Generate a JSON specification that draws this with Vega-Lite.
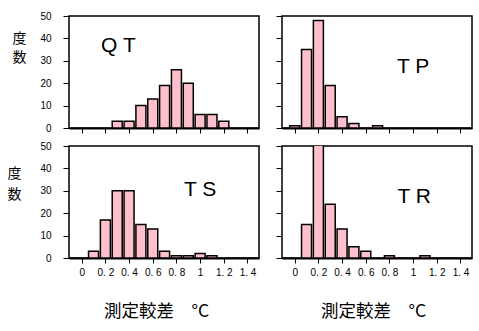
{
  "$schema": "https://vega.github.io/schema/vega-lite/v6.json",
  "padding": {"left": 6, "top": 10, "right": 5, "bottom": 5},
  "bounds": "flush",
  "columns": 2,
  "spacing": {"row": 18, "column": 23},
  "background": "white",
  "datasets": {
    "bars": [
      {"panel": "QT", "x": 0.3, "n": 3},
      {"panel": "QT", "x": 0.4, "n": 3},
      {"panel": "QT", "x": 0.5, "n": 10},
      {"panel": "QT", "x": 0.6, "n": 13},
      {"panel": "QT", "x": 0.7, "n": 19},
      {"panel": "QT", "x": 0.8, "n": 26},
      {"panel": "QT", "x": 0.9, "n": 20},
      {"panel": "QT", "x": 1.0, "n": 6},
      {"panel": "QT", "x": 1.1, "n": 6},
      {"panel": "QT", "x": 1.2, "n": 3},
      {"panel": "TP", "x": 0.0, "n": 1},
      {"panel": "TP", "x": 0.1, "n": 35},
      {"panel": "TP", "x": 0.2, "n": 48},
      {"panel": "TP", "x": 0.3, "n": 19},
      {"panel": "TP", "x": 0.4, "n": 5},
      {"panel": "TP", "x": 0.5, "n": 2},
      {"panel": "TP", "x": 0.7, "n": 1},
      {"panel": "TS", "x": 0.1, "n": 3},
      {"panel": "TS", "x": 0.2, "n": 17},
      {"panel": "TS", "x": 0.3, "n": 30},
      {"panel": "TS", "x": 0.4, "n": 30},
      {"panel": "TS", "x": 0.5, "n": 15},
      {"panel": "TS", "x": 0.6, "n": 13},
      {"panel": "TS", "x": 0.7, "n": 3},
      {"panel": "TS", "x": 0.8, "n": 1},
      {"panel": "TS", "x": 0.9, "n": 1},
      {"panel": "TS", "x": 1.0, "n": 2},
      {"panel": "TS", "x": 1.1, "n": 1},
      {"panel": "TR", "x": 0.1, "n": 15},
      {"panel": "TR", "x": 0.2, "n": 52},
      {"panel": "TR", "x": 0.3, "n": 24},
      {"panel": "TR", "x": 0.4, "n": 13},
      {"panel": "TR", "x": 0.5, "n": 5},
      {"panel": "TR", "x": 0.6, "n": 3},
      {"panel": "TR", "x": 0.8, "n": 1},
      {"panel": "TR", "x": 1.1, "n": 1}
    ]
  },
  "config": {
    "view": {"stroke": "black", "strokeWidth": 1.5},
    "axis": {
      "grid": false,
      "domain": false,
      "tickColor": "black",
      "tickWidth": 1,
      "labelColor": "black",
      "labelFont": "Liberation Sans",
      "labelFontSize": 10,
      "labelOverlap": false,
      "labelFlush": false,
      "labelBound": false,
      "titleColor": "black",
      "titleFont": "Noto Sans CJK JP",
      "titleFontWeight": "normal",
      "titleFontSize": 14
    }
  },
  "concat": [
    {
      "width": 190, "height": 112,
      "layer": [
        {
          "data": {"name": "bars"},
          "transform": [{"filter": "datum.panel === 'QT'"}],
          "mark": {"type": "bar", "width": 10, "fill": "#ffc0cb", "stroke": "black", "strokeWidth": 1.5, "clip": true},
          "encoding": {
            "x": {"field": "x", "type": "quantitative", "scale": {"domain": [-0.065, 1.455], "nice": false, "zero": false},
                  "axis": {"values": [0, 0.2, 0.4, 0.6, 0.8, 1, 1.2, 1.4], "labels": false, "title": null, "tickSize": 5, "domain": true, "domainColor": "black", "domainWidth": 2}},
            "y": {"field": "n", "type": "quantitative", "scale": {"domain": [0, 50], "nice": false},
                  "axis": {"values": [0, 10, 20, 30, 40, 50], "tickSize": 6, "labelPadding": 12, "title": ["度", "数"], "titleAngle": 0, "titleX": -50, "titleY": 22, "titleAlign": "center", "titleBaseline": "middle", "titleLineHeight": 19}}
          }
        },
        {
          "data": {"values": [{}]},
          "mark": {"type": "text", "font": "Liberation Sans", "fontSize": 21, "color": "black"},
          "encoding": {
            "x": {"datum": 0.31, "type": "quantitative",
                  "axis": {"values": [0, 0.2, 0.4, 0.6, 0.8, 1, 1.2, 1.4], "labels": false, "title": null, "tickSize": 5, "domain": true, "domainColor": "black", "domainWidth": 2}},
            "y": {"datum": 36.6, "type": "quantitative",
                  "axis": {"values": [0, 10, 20, 30, 40, 50], "tickSize": 6, "labelPadding": 12, "title": ["度", "数"], "titleAngle": 0, "titleX": -50, "titleY": 22, "titleAlign": "center", "titleBaseline": "middle", "titleLineHeight": 19}},
            "text": {"value": "Q T"}
          }
        }
      ]
    },
    {
      "width": 190, "height": 112,
      "layer": [
        {
          "data": {"name": "bars"},
          "transform": [{"filter": "datum.panel === 'TP'"}],
          "mark": {"type": "bar", "width": 10, "fill": "#ffc0cb", "stroke": "black", "strokeWidth": 1.5, "clip": true},
          "encoding": {
            "x": {"field": "x", "type": "quantitative", "scale": {"domain": [-0.065, 1.455], "nice": false, "zero": false},
                  "axis": {"values": [0, 0.2, 0.4, 0.6, 0.8, 1, 1.2, 1.4], "labels": false, "title": null, "tickSize": 5, "domain": true, "domainColor": "black", "domainWidth": 2}},
            "y": {"field": "n", "type": "quantitative", "scale": {"domain": [0, 50], "nice": false},
                  "axis": {"values": [0, 10, 20, 30, 40, 50], "tickSize": 6, "labels": false, "title": null}}
          }
        },
        {
          "data": {"values": [{}]},
          "mark": {"type": "text", "font": "Liberation Sans", "fontSize": 21, "color": "black"},
          "encoding": {
            "x": {"datum": 1.0, "type": "quantitative",
                  "axis": {"values": [0, 0.2, 0.4, 0.6, 0.8, 1, 1.2, 1.4], "labels": false, "title": null, "tickSize": 5, "domain": true, "domainColor": "black", "domainWidth": 2}},
            "y": {"datum": 27.2, "type": "quantitative",
                  "axis": {"values": [0, 10, 20, 30, 40, 50], "tickSize": 6, "labels": false, "title": null}},
            "text": {"value": "T P"}
          }
        }
      ]
    },
    {
      "width": 190, "height": 112,
      "layer": [
        {
          "data": {"name": "bars"},
          "transform": [{"filter": "datum.panel === 'TS'"}],
          "mark": {"type": "bar", "width": 10, "fill": "#ffc0cb", "stroke": "black", "strokeWidth": 1.5, "clip": true},
          "encoding": {
            "x": {"field": "x", "type": "quantitative", "scale": {"domain": [-0.065, 1.455], "nice": false, "zero": false},
                  "axis": {"values": [0, 0.2, 0.4, 0.6, 0.8, 1, 1.2, 1.4], "format": "~g", "labelExpr": "replace(datum.label, '.', '. ')", "labelPadding": 4, "tickSize": 5, "domain": true, "domainColor": "black", "domainWidth": 2,
                           "title": "測定較差　°C", "titleX": 87, "titleY": 53, "titleAlign": "center", "titleBaseline": "middle", "titleFontSize": 17.5}},
            "y": {"field": "n", "type": "quantitative", "scale": {"domain": [0, 50], "nice": false},
                  "axis": {"values": [0, 10, 20, 30, 40, 50], "tickSize": 6, "labelPadding": 12, "title": ["度", "数"], "titleAngle": 0, "titleX": -55, "titleY": 27, "titleAlign": "center", "titleBaseline": "middle", "titleLineHeight": 21}}
          }
        },
        {
          "data": {"values": [{}]},
          "mark": {"type": "text", "font": "Liberation Sans", "fontSize": 21, "color": "black"},
          "encoding": {
            "x": {"datum": 1.0, "type": "quantitative",
                  "axis": {"values": [0, 0.2, 0.4, 0.6, 0.8, 1, 1.2, 1.4], "format": "~g", "labelExpr": "replace(datum.label, '.', '. ')", "labelPadding": 4, "tickSize": 5, "domain": true, "domainColor": "black", "domainWidth": 2,
                           "title": "測定較差　°C", "titleX": 87, "titleY": 53, "titleAlign": "center", "titleBaseline": "middle", "titleFontSize": 17.5}},
            "y": {"datum": 30.4, "type": "quantitative",
                  "axis": {"values": [0, 10, 20, 30, 40, 50], "tickSize": 6, "labelPadding": 12, "title": ["度", "数"], "titleAngle": 0, "titleX": -55, "titleY": 27, "titleAlign": "center", "titleBaseline": "middle", "titleLineHeight": 21}},
            "text": {"value": "T S"}
          }
        }
      ]
    },
    {
      "width": 190, "height": 112,
      "layer": [
        {
          "data": {"name": "bars"},
          "transform": [{"filter": "datum.panel === 'TR'"}],
          "mark": {"type": "bar", "width": 10, "fill": "#ffc0cb", "stroke": "black", "strokeWidth": 1.5, "clip": true},
          "encoding": {
            "x": {"field": "x", "type": "quantitative", "scale": {"domain": [-0.065, 1.455], "nice": false, "zero": false},
                  "axis": {"values": [0, 0.2, 0.4, 0.6, 0.8, 1, 1.2, 1.4], "format": "~g", "labelExpr": "replace(datum.label, '.', '. ')", "labelPadding": 4, "tickSize": 5, "domain": true, "domainColor": "black", "domainWidth": 2,
                           "title": "測定較差　°C", "titleX": 91, "titleY": 53, "titleAlign": "center", "titleBaseline": "middle", "titleFontSize": 17.5}},
            "y": {"field": "n", "type": "quantitative", "scale": {"domain": [0, 50], "nice": false},
                  "axis": {"values": [0, 10, 20, 30, 40, 50], "tickSize": 6, "labels": false, "title": null}}
          }
        },
        {
          "data": {"values": [{}]},
          "mark": {"type": "text", "font": "Liberation Sans", "fontSize": 21, "color": "black"},
          "encoding": {
            "x": {"datum": 1.01, "type": "quantitative",
                  "axis": {"values": [0, 0.2, 0.4, 0.6, 0.8, 1, 1.2, 1.4], "format": "~g", "labelExpr": "replace(datum.label, '.', '. ')", "labelPadding": 4, "tickSize": 5, "domain": true, "domainColor": "black", "domainWidth": 2,
                           "title": "測定較差　°C", "titleX": 91, "titleY": 53, "titleAlign": "center", "titleBaseline": "middle", "titleFontSize": 17.5}},
            "y": {"datum": 27.2, "type": "quantitative",
                  "axis": {"values": [0, 10, 20, 30, 40, 50], "tickSize": 6, "labels": false, "title": null}},
            "text": {"value": "T R"}
          }
        }
      ]
    }
  ]
}
